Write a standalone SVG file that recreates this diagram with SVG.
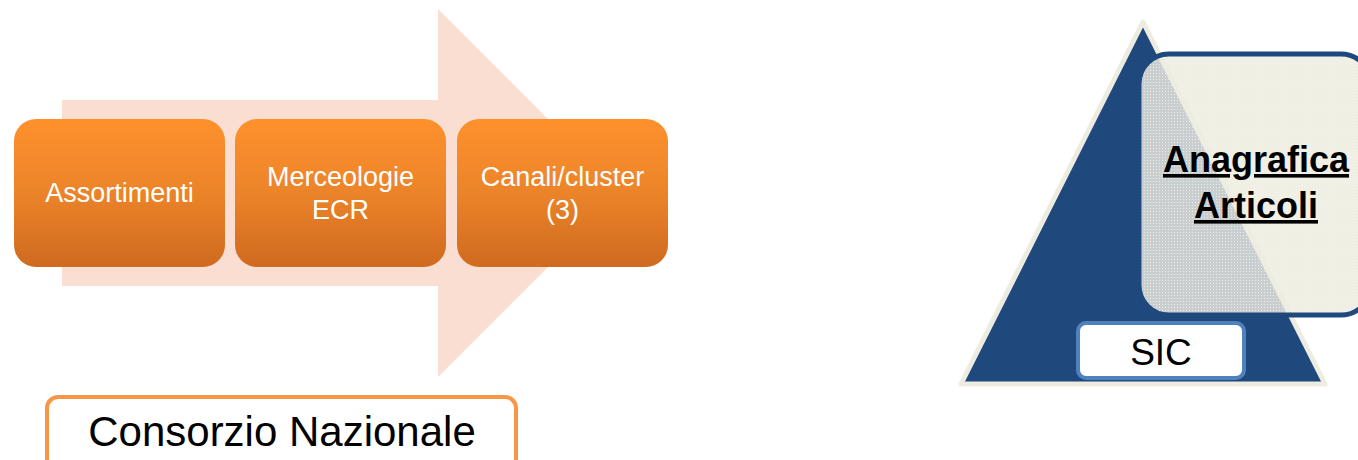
<svg xmlns="http://www.w3.org/2000/svg" width="1358" height="460" viewBox="0 0 1358 460">
<defs>
<linearGradient id="og" x1="0" y1="0" x2="0" y2="1">
<stop offset="0" stop-color="#FF912D"/>
<stop offset="0.5" stop-color="#EB8429"/>
<stop offset="1" stop-color="#CF6A1F"/>
</linearGradient>
<pattern id="dots" width="3" height="3" patternUnits="userSpaceOnUse">
<rect width="3" height="3" fill="#EEECE1" fill-opacity="0.82"/>
<rect x="1" y="1" width="1" height="1" fill="#EEECE1"/>
</pattern>
<style>
.step{fill:url(#og);}
.wt{font-family:"Liberation Sans",Arial,sans-serif;font-size:27px;fill:#FFFFFF;text-anchor:middle;}
.bk{font-family:"Liberation Sans",Arial,sans-serif;fill:#000000;text-anchor:middle;}
</style>
</defs>
<rect width="1358" height="460" fill="#FFFFFF"/>
<g id="arrow">
<polygon points="62,100 438,100 438,9 622,193 438,377 438,286 62,286" fill="#FBDED2"/>
</g>
<g id="node-assortimenti">
<rect class="step" x="14" y="119" width="211" height="148" rx="22"/>
<text class="wt" x="119.5" y="202">Assortimenti</text>
</g>
<g id="node-merceologie">
<rect class="step" x="235" y="119" width="211" height="148" rx="22"/>
<text class="wt" x="340.5" y="186">Merceologie</text>
<text class="wt" x="340.5" y="219">ECR</text>
</g>
<g id="node-canali">
<rect class="step" x="457" y="119" width="211" height="148" rx="22"/>
<text class="wt" x="562.5" y="186">Canali/cluster</text>
<text class="wt" x="562.5" y="219">(3)</text>
</g>
<g id="node-consorzio">
<rect x="47" y="397" width="469" height="80" rx="11" fill="#FFFFFF" stroke="#F79646" stroke-width="4"/>
<text class="bk" x="282" y="446" font-size="42">Consorzio Nazionale</text>
</g>
<g id="node-sic-triangle">
<polygon points="1143,22 1325,384 961,384" fill="#1F497D" stroke="#EEECE1" stroke-width="5" stroke-linejoin="round"/>
</g>
<g id="node-anagrafica">
<rect x="1139" y="54" width="232" height="261" rx="30" fill="url(#dots)" stroke="#1F497D" stroke-width="5"/>
<text class="bk" x="1256" y="172" font-size="36" font-weight="bold" text-decoration="underline">Anagrafica</text>
<text class="bk" x="1256" y="218" font-size="36" font-weight="bold" text-decoration="underline">Articoli</text>
</g>
<g id="node-sic">
<rect x="1078" y="323" width="166" height="55" rx="8" fill="#FFFFFF" stroke="#4F81BD" stroke-width="4"/>
<text class="bk" x="1161" y="365" font-size="37">SIC</text>
</g>
<g id="connectors"></g>
</svg>
